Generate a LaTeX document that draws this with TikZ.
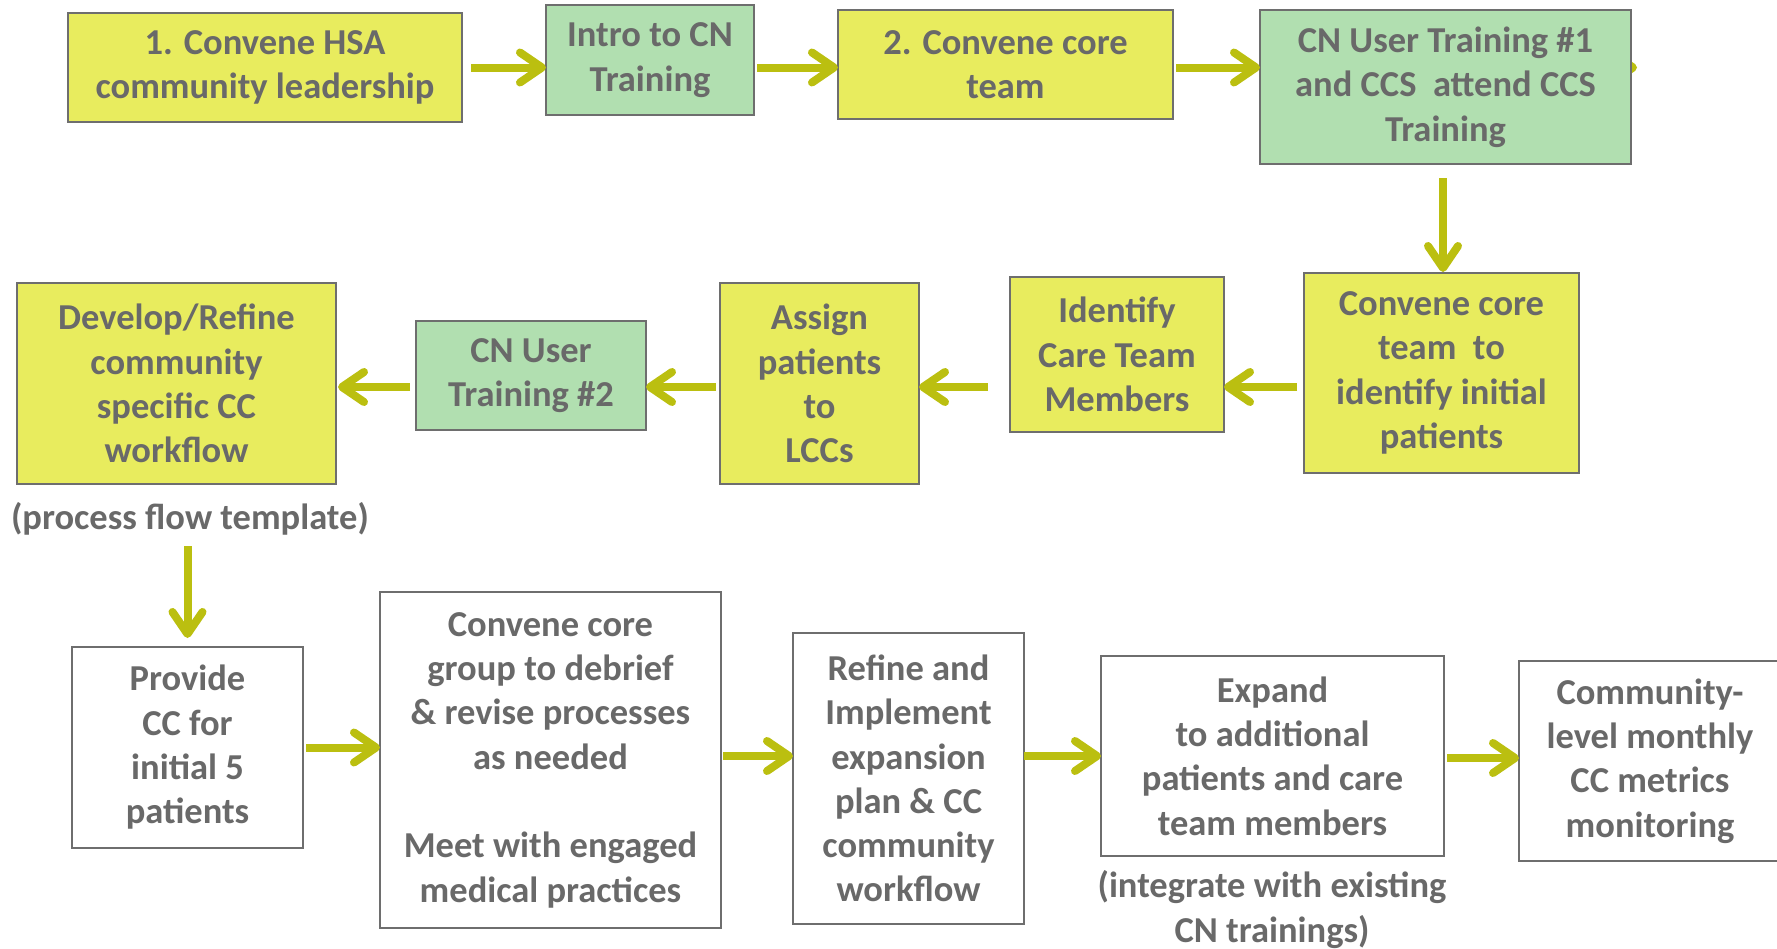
\documentclass[tikz,border=0pt]{standalone}
\usepackage{fontspec}
\setmainfont{Carlito}
\usetikzlibrary{arrows.meta,backgrounds}
\definecolor{boxyellow}{HTML}{E8EC5E}
\definecolor{boxgreen}{HTML}{B1DFB0}
\definecolor{edgegray}{HTML}{6E6E6E}
\definecolor{txtgray}{HTML}{696969}
\definecolor{arrowc}{HTML}{BBBF10}
\begin{document}
\begin{tikzpicture}[x=1pt,y=-1pt,
  every node/.style={inner sep=0pt, outer sep=0pt},
  txt/.style={text=txtgray, align=center,
    font=\fontsize{36.5}{44.3}\selectfont\bfseries},
  card/.style={txt, draw=edgegray, line width=2.2pt, fill=white},
  ybox/.style={card, fill=boxyellow},
  gbox/.style={card, fill=boxgreen},
  wbox/.style={card, fill=white},
  arr/.style={draw=arrowc, line width=8pt,
    -{Straight Barb[length=22pt, width=30pt, line width=8pt, round]}}]
\useasboundingbox (0,0) rectangle (1777,948);

% first row
\node[ybox, minimum width=394, minimum height=109] (n1) at (265,67.5)
  {1. Convene HSA\\community leadership};
\node[gbox, minimum width=208, minimum height=110] (n2) at (650,60)
  {Intro to CN\\Training};
\node[ybox, minimum width=335, minimum height=109] (n3) at (1005.5,64.5)
  {2. Convene core\\team};
\node[gbox, minimum width=371, minimum height=154] (n4) at (1445.5,87)
  {CN User Training \#1\\and CCS\ \ attend CCS\\Training};

% second row
\node[ybox, minimum width=275, minimum height=200] (n5) at (1441.5,373)
  {Convene core\\team\ \ to\\identify initial\\patients};
\node[ybox, minimum width=214, minimum height=155] (n6) at (1117,354.5)
  {Identify\\Care Team\\Members};
\node[ybox, minimum width=199, minimum height=201] (n7) at (819.5,383.5)
  {Assign\\patients\\to\\LCCs};
\node[gbox, minimum width=230, minimum height=109] (n8) at (531,375.5)
  {CN User\\Training \#2};
\node[ybox, minimum width=319, minimum height=201] (n9) at (176.5,383.5)
  {Develop/Refine\\community\\specific CC\\workflow};
\node[txt] (tmpl) at (190,519) {(process flow template)};

% third row
\node[wbox, minimum width=231, minimum height=201] (n10) at (187.5,747.5)
  {Provide\\CC for\\initial 5\\patients};
\node[wbox, minimum width=341, minimum height=336] (n11) at (550.5,760)
  {Convene core\\group to debrief\\\& revise processes\\as needed\\[44.3pt]Meet with engaged\\medical practices};
\node[wbox, minimum width=231, minimum height=291] (n12) at (908.5,778.5)
  {Refine and\\Implement\\expansion\\plan \& CC\\community\\workflow};
\node[wbox, minimum width=343, minimum height=200] (n13) at (1272.5,756)
  {Expand\\to additional\\patients and care\\team members};
\node[txt] (integ) at (1272,909.5) {(integrate with existing\\CN trainings)};
\node[wbox, minimum width=262, minimum height=200] (n14) at (1650,761)
  {Community-\\level monthly\\CC metrics\\monitoring};

% row guide points for the horizontal connectors
\coordinate (r2) at ([yshift=-3.5pt]n9.east);
\coordinate (n4out) at ([xshift=6pt]n1.east -| n4.east);

% stub leaving the right side of the training box, mostly hidden behind it
\begin{scope}[on background layer]
  \draw[arr] (n1.east -| n4.center) -- (n4out);
\end{scope}

% first row connectors
\draw[arr, shorten <=9pt] (n1.east) -- (n1.east -| n2.west);
\draw[arr, shorten <=3pt] (n1.east -| n2.east) -- (n1.east -| n3.west);
\draw[arr, shorten <=3pt] (n1.east -| n3.east) -- (n1.east -| n4.west);
\draw[arr, shorten <=14pt, shorten >=1pt] ([xshift=-2.5pt]n4.south) -- ([xshift=-2.5pt]n4.south |- n5.north);

% second row connectors (right to left)
\draw[arr, shorten <=7pt] (r2 -| n5.west) -- (r2 -| n6.east);
\draw[arr, shorten <=22pt] (r2 -| n6.west) -- (r2 -| n7.east);
\draw[arr, shorten <=4pt] (r2 -| n7.west) -- (r2 -| n8.east);
\draw[arr, shorten <=6pt, shorten >=2pt] (r2 -| n8.west) -- (r2 -| n9.east);
\draw[arr, shorten <=11pt, shorten >=9pt] (tmpl.south -| n10.north) -- (n10.north);

% third row connectors
\draw[arr, shorten <=3pt] (n10.east) -- (n10.east -| n11.west);
\draw[arr, shorten <=2pt] (n13.west -| n11.east) -- (n13.west -| n12.west);
\draw[arr] (n13.west -| n12.east) -- (n13.west);
\draw[arr, shorten <=3pt] ([yshift=-2pt]n13.east) -- ([yshift=-2pt]n13.east -| n14.west);
\end{tikzpicture}
\end{document}
